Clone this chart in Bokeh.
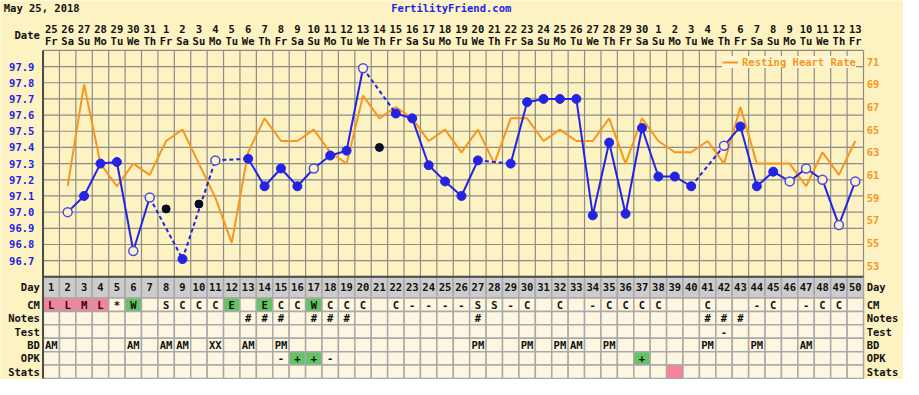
from bokeh.plotting import figure
from bokeh.models import ColumnDataSource, Range1d, Legend, LegendItem
from bokeh.core.properties import value
from bokeh.embed import file_html
from bokeh.resources import INLINE

# ---------------- data ----------------
title_text = "May 25, 2018"
site_text = "FertilityFriend.com"
date_label = "Date"
legend_label = "Resting Heart Rate"

days = list(range(1, 51))
date_nums = ["25", "26", "27", "28", "29", "30", "31",
             "1", "2", "3", "4", "5", "6", "7", "8", "9", "10", "11", "12", "13", "14", "15",
             "16", "17", "18", "19", "20", "21", "22", "23", "24", "25", "26", "27", "28", "29", "30",
             "1", "2", "3", "4", "5", "6", "7", "8", "9", "10", "11", "12", "13"]
weekdays = ["Fr", "Sa", "Su", "Mo", "Tu", "We", "Th",
            "Fr", "Sa", "Su", "Mo", "Tu", "We", "Th",
            "Fr", "Sa", "Su", "Mo", "Tu", "We", "Th",
            "Fr", "Sa", "Su", "Mo", "Tu", "We", "Th",
            "Fr", "Sa", "Su", "Mo", "Tu", "We", "Th",
            "Fr", "Sa", "Su", "Mo", "Tu", "We", "Th",
            "Fr", "Sa", "Su", "Mo", "Tu", "We", "Th",
            "Fr"]

# temperature (F); None = no reading
temps = [None, 97.00, 97.10, 97.30, 97.31, 96.76, 97.09, 97.02, 96.71, 97.05,
         97.32, None, 97.33, 97.16, 97.27, 97.16, 97.27, 97.35, 97.38, 97.89,
         97.40, 97.61, 97.58, 97.29, 97.19, 97.10, 97.32, None, 97.30, 97.68,
         97.70, 97.70, 97.70, 96.98, 97.43, 96.99, 97.52, 97.22, 97.22, 97.16,
         None, 97.41, 97.53, 97.16, 97.25, 97.19, 97.27, 97.20, 96.92, 97.19]
# f = normal, o = open (flagged), x = discarded, "" = none
temp_kind = ["", "o", "f", "f", "f", "o", "o", "x", "f", "x",
             "o", "", "f", "f", "f", "f", "o", "f", "f", "o",
             "x", "f", "f", "f", "f", "f", "f", "", "f", "f",
             "f", "f", "f", "f", "f", "f", "f", "f", "f", "f",
             "", "o", "f", "f", "f", "o", "o", "o", "o", "o"]

heart_rate = [None, 60, 69, 62, 60, 62, 61, 64, 65, 62,
              59, 55, 63, 66, 64, 64, 65, 63, 62, 68,
              66, 67, 66, 64, 65, 63, 65, 62, 66, 66,
              64, 65, 64, 64, 66, 62, 66, 64, 63, 63,
              64, 62, 67, 62, 62, 62, 60, 63, 61, 64]

cm = ["L", "L", "M", "L", "*", "W", "", "S", "C", "C",
      "C", "E", "", "E", "C", "C", "W", "C", "C", "C",
      "", "C", "-", "-", "-", "-", "S", "S", "-", "C",
      "", "C", "", "-", "C", "C", "C", "C", "", "",
      "C", "", "", "-", "C", "", "-", "C", "C", ""]
notes = ["", "", "", "", "", "", "", "", "", "",
         "", "", "#", "#", "#", "", "#", "#", "#", "",
         "", "", "", "", "", "", "#", "", "", "",
         "", "", "", "", "", "", "", "", "", "",
         "#", "#", "#", "", "", "", "", "", "", ""]
test = ["", "", "", "", "", "", "", "", "", "",
        "", "", "", "", "", "", "", "", "", "",
        "", "", "", "", "", "", "", "", "", "",
        "", "", "", "", "", "", "", "", "", "",
        "", "-", "", "", "", "", "", "", "", ""]
bd = ["AM", "", "", "", "", "AM", "", "AM", "AM", "",
      "XX", "", "AM", "", "PM", "", "", "", "", "",
      "", "", "", "", "", "", "PM", "", "", "PM",
      "", "PM", "AM", "", "PM", "", "", "", "", "",
      "PM", "", "", "PM", "", "", "AM", "", "", ""]
opk = ["", "", "", "", "", "", "", "", "", "",
       "", "", "", "", "-", "+", "+", "-", "", "",
       "", "", "", "", "", "", "", "", "", "",
       "", "", "", "", "", "", "+", "", "", "",
       "", "", "", "", "", "", "", "", "", ""]
stats_marked_days = [39]

row_names = ["Day", "CM", "Notes", "Test", "BD", "OPK", "Stats"]
temp_ticks = [96.7, 96.8, 96.9, 97.0, 97.1, 97.2, 97.3, 97.4, 97.5, 97.6, 97.7, 97.8, 97.9]
temp_grid = [96.6, 96.7, 96.8, 96.9, 97.0, 97.1, 97.2, 97.3, 97.4, 97.5, 97.6, 97.7, 97.8, 97.9, 98.0]
hr_ticks = [53, 55, 57, 59, 61, 63, 65, 67, 69, 71]

# ---------------- styling / geometry ----------------
W, H = 903, 379
RW, RH = 919, 395                 # reference canvas size
BG = "#FDF2C2"
CELL = "#FDF6E1"
DAYROW = "#CCCCCC"
PINK = "#F7829A"
GREEN = "#62C462"
BLUE = "#2323E6"
OPEN_BLUE = "#4A4AEE"
ORANGE = "#F7961E"
GRID = "#8E8C84"
TLINE = "#A9A9A9"
DARK = "#4A4A4A"
INK = "#111111"
FONT = "DejaVu Sans Mono"
FS = "10.5px"

# reference-pixel geometry
R_L, R_R = 43.3, 878.3             # plot/table left & right edges
R_TOP, R_PB, R_BOT = 52, 288, 394  # plot top, plot bottom, table bottom
ROW = 14.0
DAY_H = (310 - 288) / ROW          # day row height in row units
T_TOP, T_BOT = 98.0, 96.6
HR_TOP, HR_BOT = 72.0, 52.0
COL = (R_R - R_L) / 50
t_per = (T_TOP - T_BOT) / (R_PB - R_TOP)
hr_per = (HR_TOP - HR_BOT) / (R_PB - R_TOP)


def rx(x):  # reference x -> day units
    return 0.5 + (x - R_L) / COL


def ry(y):  # reference y -> table units
    return (R_BOT - y) / ROW


p = figure(width=W, height=H, output_backend="svg", toolbar_location=None,
           x_range=Range1d(rx(0), rx(RW)),
           y_range=Range1d(T_TOP - (RH - R_TOP) * t_per, T_TOP + R_TOP * t_per),
           x_axis_location=None, y_axis_location=None,
           min_border=0, min_border_left=0, min_border_right=0,
           min_border_top=0, min_border_bottom=0)
p.extra_y_ranges = {
    "hr": Range1d(HR_TOP - (RH - R_TOP) * hr_per, HR_TOP + R_TOP * hr_per),
    "tbl": Range1d(ry(RH), ry(0)),
}
p.background_fill_color = BG
p.border_fill_color = BG
p.outline_line_color = None
for g in p.grid:
    g.visible = False

txt_kw = dict(text_font=value(FONT), text_font_size=value(FS), text_font_style="bold",
              text_baseline="middle")

# ---------------- plot grid ----------------
bounds = [d + 0.5 for d in range(0, 51)]
p.segment(x0=bounds, x1=bounds, y0=[ry(R_TOP)] * len(bounds), y1=[ry(R_PB)] * len(bounds),
          y_range_name="tbl", line_color=GRID, line_width=1.2)
p.segment(x0=[0.5] * len(temp_grid), x1=[50.5] * len(temp_grid), y0=temp_grid, y1=temp_grid,
          line_color=GRID, line_width=1.2)

# tick labels (temperature left, heart rate right)
p.text(x=[rx(34.5)] * len(temp_ticks), y=temp_ticks, text=["%.1f" % t for t in temp_ticks],
       text_align="right", text_color=BLUE, **txt_kw)
p.text(x=[rx(881.5)] * len(hr_ticks), y=hr_ticks, text=[str(h) for h in hr_ticks],
       y_range_name="hr", text_align="left", text_color=ORANGE, **txt_kw)

# ---------------- table ----------------
row_center = {"Day": 6 + DAY_H / 2, "CM": 5.5, "Notes": 4.5, "Test": 3.5, "BD": 2.5, "OPK": 1.5, "Stats": 0.5}
row_height = {"Day": DAY_H, "CM": 1, "Notes": 1, "Test": 1, "BD": 1, "OPK": 1, "Stats": 1}
row_text = {"Day": [str(d) for d in days], "CM": cm, "Notes": notes, "Test": test,
            "BD": bd, "OPK": opk, "Stats": [""] * len(days)}

cx, cy, ch, cf, tx, ty, tt = [], [], [], [], [], [], []
for r in row_names:
    for i, d in enumerate(days):
        txt = row_text[r][i]
        fill = CELL
        if r == "Day":
            fill = DAYROW
        elif r == "CM" and txt in ("L", "M", "H"):
            fill = PINK
        elif r == "CM" and txt in ("W", "E"):
            fill = GREEN
        elif r == "OPK" and txt == "+":
            fill = GREEN
        elif r == "Stats" and d in stats_marked_days:
            fill = PINK
        cx.append(d); cy.append(row_center[r]); ch.append(row_height[r]); cf.append(fill)
        if txt:
            tx.append(d); ty.append(row_center[r]); tt.append(txt)

p.rect(x="x", y="y", width=1, height="h", source=ColumnDataSource(dict(x=cx, y=cy, h=ch, fill=cf)),
       fill_color="fill", line_color=TLINE, line_width=1.5, y_range_name="tbl")
p.text(x="x", y="y", text="t", source=ColumnDataSource(dict(x=tx, y=ty, t=tt)),
       text_align="center", text_color=INK, y_range_name="tbl", **txt_kw)

# row labels on both sides
rn = list(row_names)
rc = [row_center[r] for r in rn]
p.text(x=[rx(40)] * len(rn), y=rc, text=rn, text_align="right", text_color=INK,
       y_range_name="tbl", **txt_kw)
p.text(x=[rx(881.5)] * len(rn), y=rc, text=rn, text_align="left", text_color=INK,
       y_range_name="tbl", **txt_kw)

# frame edges
p.segment(x0=[0.5, 0.5], x1=[0.5, 50.5], y0=[ry(R_TOP), ry(R_PB)], y1=[ry(R_BOT), ry(R_PB)],
          y_range_name="tbl", line_color=DARK, line_width=2)

# ---------------- header ----------------
p.text(x=[rx(3.3)], y=[ry(8)], text=[title_text], text_align="left", text_color=INK,
       y_range_name="tbl", **txt_kw)
p.text(x=[rx(458.7)], y=[ry(7.5)], text=[site_text], text_align="center", text_color=BLUE,
       y_range_name="tbl", **txt_kw)
p.text(x=[rx(40)], y=[ry(36)], text=[date_label], text_align="right", text_color=INK,
       y_range_name="tbl", **txt_kw)
p.text(x=days, y=[ry(30)] * len(days), text=date_nums, text_align="center", text_color=INK,
       y_range_name="tbl", **txt_kw)
p.text(x=days, y=[ry(41.7)] * len(days), text=weekdays, text_align="center", text_color=INK,
       y_range_name="tbl", **txt_kw)

# ---------------- heart rate ----------------
hr_vals = [float("nan") if v is None else v for v in heart_rate]
hr_line = p.line(days, hr_vals, y_range_name="hr", line_color=ORANGE, line_width=2)

# ---------------- temperature ----------------
valid = [(d, t) for d, t, k in zip(days, temps, temp_kind) if k in ("f", "o")]
seg_s = dict(x0=[], y0=[], x1=[], y1=[])
seg_d = dict(x0=[], y0=[], x1=[], y1=[])
for (d0, t0), (d1, t1) in zip(valid[:-1], valid[1:]):
    tgt = seg_s if d1 - d0 == 1 else seg_d
    tgt["x0"].append(d0); tgt["y0"].append(t0); tgt["x1"].append(d1); tgt["y1"].append(t1)
p.segment(x0="x0", y0="y0", x1="x1", y1="y1", source=ColumnDataSource(seg_d),
          line_color=BLUE, line_width=2, line_dash="4 3")
p.segment(x0="x0", y0="y0", x1="x1", y1="y1", source=ColumnDataSource(seg_s),
          line_color=BLUE, line_width=2)


def pts(kind):
    xs = [d for d, k in zip(days, temp_kind) if k == kind]
    ys = [t for t, k in zip(temps, temp_kind) if k == kind]
    return ColumnDataSource(dict(x=xs, y=ys))


p.scatter("x", "y", source=pts("f"), size=9, fill_color=BLUE, line_color=BLUE)
p.scatter("x", "y", source=pts("o"), size=9, fill_color=BG, line_color=OPEN_BLUE, line_width=1.5)
p.scatter("x", "y", source=pts("x"), size=8, fill_color="#0A0A2A", line_color="#0A0A2A")

# legend (top-right corner of the plot area)
leg_h = 18
leg_x = round(735 * W / RW)
leg_y = H - round(R_TOP * H / RH) - leg_h
legend = Legend(items=[LegendItem(label=legend_label, renderers=[hr_line])],
                location=(leg_x, leg_y), margin=0, padding=3, spacing=0,
                glyph_width=16, glyph_height=12, label_height=12, label_standoff=4,
                label_text_color=ORANGE, label_text_font=FONT, label_text_font_size=FS,
                label_text_font_style="bold", background_fill_color="#FEF6D2",
                background_fill_alpha=1, border_line_color=None)
p.add_layout(legend)

open("out.html", "w").write(file_html(p, INLINE))
